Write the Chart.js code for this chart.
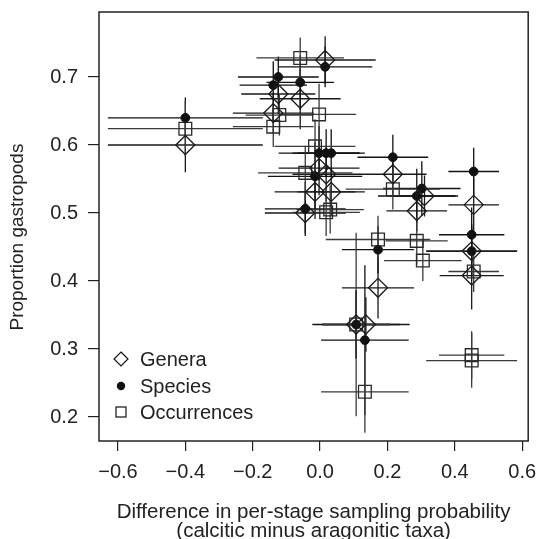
<!DOCTYPE html>
<html>
<head>
<meta charset="utf-8">
<script src="https://cdn.jsdelivr.net/npm/chart.js@4/dist/chart.umd.min.js"></script>
<style>
  html, body { margin: 0; padding: 0; background: #fff; }
  #wrap { width: 539px; height: 539px; }
</style>
</head>
<body>
<div id="wrap"><canvas id="chart" width="539" height="539"></canvas></div>
<script>
// values
const generaX    = [-0.40, -0.124, -0.059, -0.139, 0.015, -0.003, 0.018, -0.015, 0.033, -0.044, 0.216, 0.287, 0.310, 0.456, 0.450, 0.450, 0.172, 0.107, 0.136];
const generaY    = [0.600, 0.675, 0.668, 0.647, 0.725, 0.566, 0.557, 0.531, 0.531, 0.500, 0.557, 0.503, 0.525, 0.512, 0.444, 0.408, 0.390, 0.336, 0.336];
const generaXErr = [0.23, 0.11, 0.12, 0.12, 0.15, 0.12, 0.10, 0.12, 0.10, 0.12, 0.10, 0.09, 0.10, 0.075, 0.135, 0.095, 0.107, 0.10, 0.13];
const generaYErr = [0.04, 0.03, 0.045, 0.03, 0.035, 0.04, 0.04, 0.04, 0.035, 0.03, 0.03, 0.03, 0.03, 0.04, 0.04, 0.05, 0.045, 0.05, 0.04];

const speciesX    = [-0.40, -0.124, -0.139, -0.059, 0.015, -0.003, 0.018, 0.033, -0.015, -0.044, 0.216, 0.302, 0.287, 0.456, 0.450, 0.450, 0.172, 0.107, 0.133];
const speciesY    = [0.640, 0.700, 0.688, 0.692, 0.715, 0.588, 0.588, 0.588, 0.554, 0.506, 0.582, 0.536, 0.525, 0.561, 0.468, 0.444, 0.446, 0.336, 0.313];
const speciesXErr = [0.23, 0.12, 0.10, 0.10, 0.14, 0.12, 0.10, 0.10, 0.14, 0.12, 0.105, 0.115, 0.115, 0.075, 0.097, 0.135, 0.107, 0.13, 0.13];
const speciesYErr = [0.03, 0.03, 0.035, 0.04, 0.03, 0.04, 0.035, 0.035, 0.05, 0.04, 0.033, 0.04, 0.04, 0.035, 0.04, 0.035, 0.035, 0.05, 0.11];

const occX    = [-0.40, -0.059, -0.121, -0.139, -0.003, -0.015, -0.044, 0.018, 0.030, 0.216, 0.172, 0.287, 0.305, 0.456, 0.107, 0.133, 0.450, 0.450];
const occY    = [0.624, 0.728, 0.644, 0.627, 0.645, 0.598, 0.559, 0.501, 0.505, 0.535, 0.461, 0.459, 0.430, 0.414, 0.336, 0.237, 0.291, 0.283];
const occXErr = [0.23, 0.13, 0.10, 0.12, 0.11, 0.12, 0.14, 0.10, 0.10, 0.14, 0.155, 0.092, 0.115, 0.075, 0.10, 0.13, 0.097, 0.135];
const occYErr = [0.04, 0.03, 0.03, 0.03, 0.045, 0.04, 0.04, 0.035, 0.035, 0.03, 0.035, 0.035, 0.03, 0.03, 0.135, 0.06, 0.035, 0.04];

const xTicks = [-0.6, -0.4, -0.2, 0.0, 0.2, 0.4, 0.6];
const yTicks = [0.2, 0.3, 0.4, 0.5, 0.6, 0.7];

const FONT = "'Liberation Sans', Arial, Helvetica, sans-serif";

function pts(xs, ys, xe, ye) {
    return xs.map((x, i) => ({ x: x, y: ys[i], xErr: xe[i], yErr: ye[i] }));
}

// draws the horizontal and vertical error bars through the chart scales
const errorBars = {
    id: 'errorBars',
    beforeDatasetsDraw(chart) {
        const ctx = chart.ctx;
        const xs = chart.scales.x, ys = chart.scales.y;
        ctx.save();
        chart.data.datasets.forEach(ds => {
            ctx.strokeStyle = ds.barColor;
            ctx.lineWidth = 1.3;
            ds.data.forEach(p => {
                const px = xs.getPixelForValue(p.x), py = ys.getPixelForValue(p.y);
                ctx.beginPath();
                ctx.moveTo(xs.getPixelForValue(p.x - p.xErr), py);
                ctx.lineTo(xs.getPixelForValue(p.x + p.xErr), py);
                ctx.moveTo(px, ys.getPixelForValue(p.y - p.yErr));
                ctx.lineTo(px, ys.getPixelForValue(p.y + p.yErr));
                ctx.stroke();
            });
        });
        ctx.restore();
    },
    afterDraw(chart) {
        const ctx = chart.ctx;
        const a = chart.chartArea;
        ctx.save();
        // box round the plot
        ctx.strokeStyle = '#222';
        ctx.lineWidth = 1.5;
        ctx.strokeRect(a.left, a.top, a.right - a.left, a.bottom - a.top);

        // legend in the lower left corner
        const lx = a.left + 22;
        const rows = [359, 386, 412];
        ctx.lineWidth = 1.2;
        ctx.strokeStyle = '#111';
        ctx.fillStyle = '#111';
        // diamond
        ctx.beginPath();
        ctx.moveTo(lx, rows[0] - 7); ctx.lineTo(lx + 7, rows[0]);
        ctx.lineTo(lx, rows[0] + 7); ctx.lineTo(lx - 7, rows[0]); ctx.closePath();
        ctx.stroke();
        // filled circle
        ctx.beginPath();
        ctx.arc(lx, rows[1], 4.2, 0, Math.PI * 2);
        ctx.fill();
        // square
        ctx.strokeRect(lx - 5, rows[2] - 5, 10, 10);

        ctx.font = '20px ' + FONT;
        ctx.textBaseline = 'middle';
        ctx.fillStyle = '#222';
        chart.data.datasets.forEach((ds, i) => {
            ctx.fillText(ds.label, lx + 19, rows[i] + 1);
        });
        ctx.restore();
    }
};

new Chart(document.getElementById('chart'), {
    type: 'scatter',
    data: {
        datasets: [
            {
                label: 'Genera',
                data: pts(generaX, generaY, generaXErr, generaYErr),
                pointStyle: 'rectRot',
                pointRadius: 9.5,
                borderWidth: 1.3,
                borderColor: '#1a1a1a',
                backgroundColor: 'rgba(0,0,0,0)',
                barColor: '#1a1a1a'
            },
            {
                label: 'Species',
                data: pts(speciesX, speciesY, speciesXErr, speciesYErr),
                pointStyle: 'circle',
                pointRadius: 4.4,
                borderWidth: 1,
                borderColor: '#111',
                backgroundColor: '#111',
                barColor: '#111'
            },
            {
                label: 'Occurrences',
                data: pts(occX, occY, occXErr, occYErr),
                pointStyle: 'rect',
                pointRadius: 9,
                borderWidth: 1.3,
                borderColor: '#2a2a2a',
                backgroundColor: 'rgba(0,0,0,0)',
                barColor: '#3a3a3a'
            }
        ]
    },
    options: {
        responsive: false,
        animation: false,
        layout: { padding: { top: 12, right: 10, left: 0, bottom: 0 } },
        plugins: {
            legend: { display: false },
            tooltip: { enabled: false }
        },
        scales: {
            x: {
                type: 'linear',
                min: -0.6563,
                max: 0.6178,
                afterBuildTicks: s => { s.ticks = xTicks.map(v => ({ value: v })); },
                afterFit: s => { s.height = 98; s.paddingLeft = 0; s.paddingRight = 0; },
                border: { display: false },
                grid: { drawOnChartArea: false, drawTicks: true, tickLength: 10, color: '#222', lineWidth: 1.2 },
                ticks: {
                    padding: 9,
                    color: '#222',
                    font: { family: FONT, size: 20 },
                    maxRotation: 0,
                    callback: v => (v < 0 ? '\u2212' : '') + Math.abs(v).toFixed(1)
                },
                title: {
                    display: true,
                    text: ['Difference in per-stage sampling probability', '(calcitic minus aragonitic taxa)'],
                    color: '#222',
                    font: { family: FONT, size: 20.5, lineHeight: 0.93 },
                    padding: { top: 0, bottom: -2 }
                }
            },
            y: {
                type: 'linear',
                min: 0.1647,
                max: 0.7956,
                afterBuildTicks: s => { s.ticks = yTicks.map(v => ({ value: v })); },
                afterFit: s => { s.width = 99; s.paddingTop = 0; s.paddingBottom = 0; },
                border: { display: false },
                grid: { drawOnChartArea: false, drawTicks: true, tickLength: 11, color: '#222', lineWidth: 1.2 },
                ticks: {
                    padding: 10,
                    color: '#222',
                    font: { family: FONT, size: 20 },
                    callback: v => v.toFixed(1)
                },
                title: {
                    display: true,
                    text: 'Proportion gastropods\u00a0\u00a0\u00a0\u00a0',
                    color: '#222',
                    font: { family: FONT, size: 19, lineHeight: 1.0 },
                    padding: { top: 8, bottom: 0 }
                }
            }
        }
    },
    plugins: [errorBars]
});
</script>
</body>
</html>
